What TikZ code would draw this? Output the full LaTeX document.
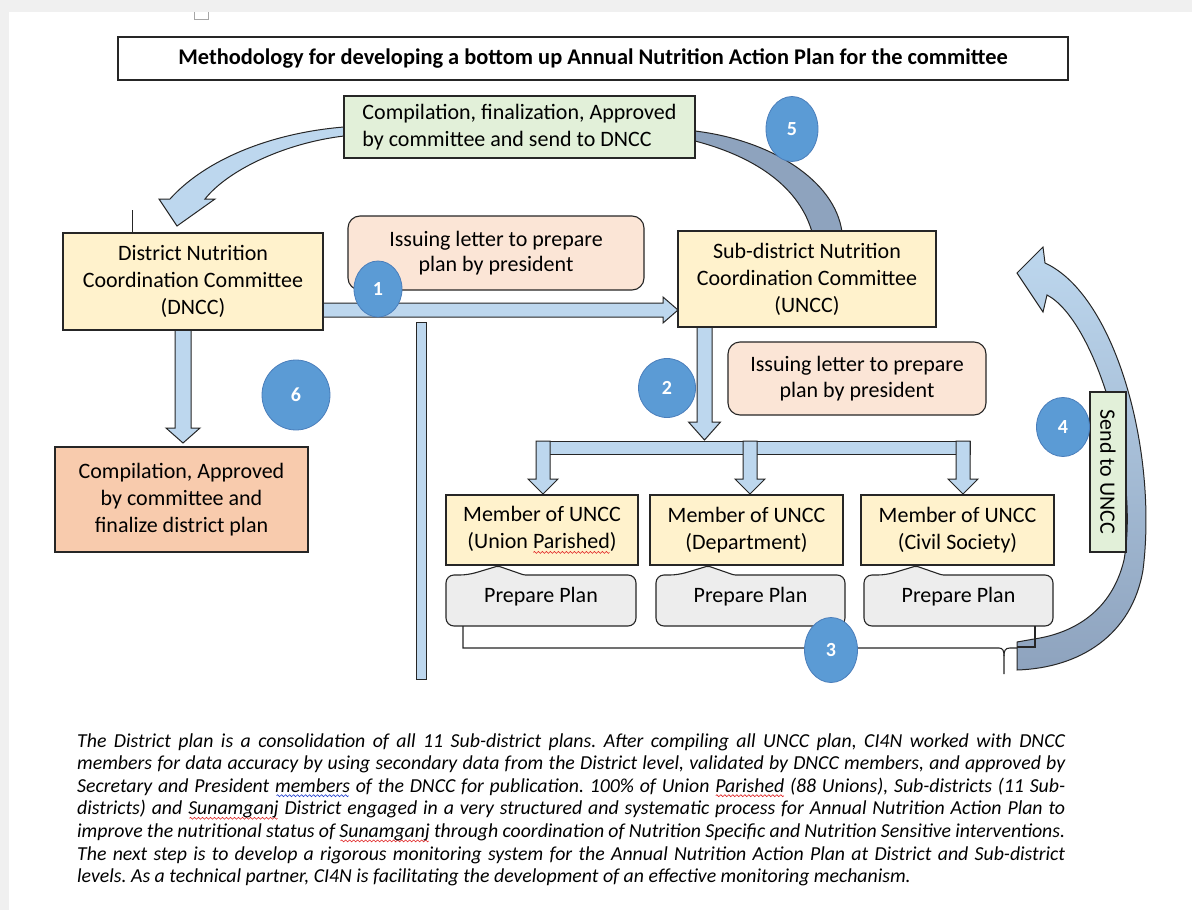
\documentclass[tikz,border=0pt]{standalone}
\usepackage{fontspec}
\setmainfont{Carlito}
\usetikzlibrary{shapes.geometric}

\definecolor{pagegray}{HTML}{F0F0F0}
\definecolor{ink}{HTML}{262626}
\definecolor{boxyellow}{HTML}{FFF2CC}
\definecolor{boxgreen}{HTML}{E2F0D9}
\definecolor{boxpink}{HTML}{FBE5D6}
\definecolor{boxorange}{HTML}{F8CBAD}
\definecolor{boxgray}{HTML}{EDEDED}
\definecolor{arrowblue}{HTML}{BDD7EE}
\definecolor{arrowdark}{HTML}{8EA3BE}
\definecolor{badgefill}{HTML}{5B9BD5}
\definecolor{badgeedge}{HTML}{4A7EBB}
\definecolor{spellred}{HTML}{E02020}
\definecolor{spellblue}{HTML}{2040D0}

\newcommand\boxfont{\fontsize{22}{27}\selectfont}
\newcommand\letterfont{\fontsize{22}{25.5}\selectfont}
\newcommand\titlefont{\fontsize{22.4}{26}\selectfont\bfseries}
\newcommand\parafont{\fontsize{19.8}{22.6}\selectfont\itshape\frenchspacing}

% one period of a spell-check wave, repeated under a word
\newsavebox\waveredbox
\newsavebox\wavebluebox
\newcommand\wavepiece[1]{%
  \pgfpicture
    \pgfsetlinewidth{0.6pt}\pgfsetstrokecolor{#1}%
    \pgfpathmoveto{\pgfpoint{0pt}{0pt}}%
    \pgfpathcurveto{\pgfpoint{1pt}{1.3pt}}{\pgfpoint{1pt}{1.3pt}}{\pgfpoint{2pt}{0pt}}%
    \pgfpathcurveto{\pgfpoint{3pt}{-1.3pt}}{\pgfpoint{3pt}{-1.3pt}}{\pgfpoint{4pt}{0pt}}%
    \pgfusepath{stroke}%
    \pgfresetboundingbox
    \pgfpathrectangle{\pgfpoint{0pt}{-1pt}}{\pgfpoint{4pt}{2pt}}%
    \pgfusepath{use as bounding box}%
  \endpgfpicture}
\AtBeginDocument{%
  \sbox\waveredbox{\wavepiece{spellred}}%
  \sbox\wavebluebox{\wavepiece{spellblue}}}
\newcommand\wavedword[2]{\leavevmode\setbox0\hbox{#2}%
  \rlap{\raisebox{-4.5pt}{\hbox to \wd0{\cleaders\copy#1\hfill}}}\box0\relax}
\newcommand\redwave[1]{\wavedword{\waveredbox}{#1}}
\newcommand\bluewave[1]{\wavedword{\wavebluebox}{#1}}

% straight block arrow pointing down: cx, ytop, yneck, ytip, half shaft, half head
\newcommand\downblock[6]{%
  \draw[blockarrow] (#1-#5,#2) -- (#1+#5,#2) -- (#1+#5,#3) -- (#1+#6,#3)
    -- (#1,#4) -- (#1-#6,#3) -- (#1-#5,#3) -- cycle;}

% "Prepare Plan" callout: name, left, right
\newcommand\plancallout[3]{%
  \draw[callout] (#2+22,575) [rounded corners=1.5pt] -- (#2+52,566) -- (#2+78,575)
    [rounded corners=8pt] -- (#3,575) -- (#3,626) -- (#2,626) -- (#2,575) -- cycle;
  \node[inner sep=0pt, font=\boxfont] (#1) at ({(#2+#3)/2},597) {Prepare Plan};}

\begin{document}
\begin{tikzpicture}[x=1pt,y=-1pt,
  box/.style={draw=ink, line width=1.1pt, inner sep=0pt, align=center, font=\boxfont},
  letterbox/.style={box, fill=boxpink, rounded corners=12pt, font=\letterfont},
  badge/.style={ellipse, fill=badgefill, draw=badgeedge, line width=0.8pt, inner sep=0pt,
    text=white, font=\fontsize{20}{20}\selectfont\bfseries},
  blockarrow/.style={fill=arrowblue, draw=ink, line width=1pt, line join=miter},
  callout/.style={fill=boxgray, draw=ink, line width=1.1pt},
  thinline/.style={draw=ink, line width=1.1pt},
  paraline/.style={anchor=base west, inner sep=0pt, font=\parafont}]

\useasboundingbox (0,0) rectangle (1192,910);
\fill[pagegray] (0,0) rectangle (1192,910);
\fill[white] (9,12) rectangle (1192,910);

% small marks
\draw[gray!70, line width=0.8pt] (194,12) -- (194,19) -- (208,19) -- (208,12);
\draw[ink, line width=1pt] (132,210) -- (132,233);

% title
\node[box, fill=white, minimum width=950, minimum height=43, font=\titlefont] (title) at (593,58.5)
  {Methodology for developing a bottom up Annual Nutrition Action Plan for the committee};

% curved arrow from the compiled plan down to the DNCC
\draw[blockarrow] (344,127) .. controls (270,133) and (205,160) .. (170,199) -- (159,199)
  -- (177,226) -- (215,199) -- (205,199) .. controls (228,170) and (285,143) .. (344,136) -- cycle;

% curved band from the compiled plan to the UNCC
\draw[fill=arrowdark, draw=ink, line width=1pt] (695,131) .. controls (770,140) and (835,180) .. (842,232)
  -- (812,232) .. controls (800,190) and (760,158) .. (695,141) -- cycle;

% vertical separator
\draw[blockarrow] (416,322) rectangle (426,679);

% arrow 1: DNCC to UNCC
\draw[blockarrow] (323,303) -- (663,303) -- (663,297) -- (678,310) -- (663,323) -- (663,317) -- (323,317) -- cycle;

% arrow 6: DNCC to district plan
\downblock{183}{330}{428}{443}{8}{17}

% arrow 2: UNCC to members
\downblock{704.5}{327}{422}{440}{7.5}{16}
\draw[blockarrow] (536,441) rectangle (970,454);
\downblock{543}{441}{479}{494}{7}{15}
\downblock{750}{441}{479}{494}{7}{15}
\downblock{963}{441}{479}{494}{7}{15}

% arrow 4: members back to UNCC
\draw[draw=ink, line width=1pt, top color=arrowblue, middle color=arrowblue, bottom color=arrowdark]
  (1017,273) -- (1043,247) -- (1045,263) .. controls (1115,295) and (1158,450) .. (1143,570)
  .. controls (1132,635) and (1080,668) .. (1017,670) -- (1017,642) -- (1034,639)
  .. controls (1075,633) and (1112,610) .. (1124,560)
  .. controls (1140,470) and (1095,320) .. (1047,295) -- (1043,312) -- cycle;

% boxes
\node[box, fill=boxgreen, minimum width=351, minimum height=62, align=left] (compile) at (519.5,127)
  {Compilation, finalization, Approved\\by committee and send to DNCC};
\node[box, fill=boxyellow, minimum width=260, minimum height=97] (dncc) at (193,281.5)
  {District Nutrition\\Coordination Committee\\(DNCC)};
\node[letterbox, minimum width=296, minimum height=74] (letterA) at (496,253)
  {Issuing letter to prepare\\plan by president};
\node[box, fill=boxyellow, minimum width=258, minimum height=96] (uncc) at (807,279)
  {Sub-district Nutrition\\Coordination Committee\\(UNCC)};
\node[letterbox, minimum width=258, minimum height=73] (letterB) at (857,378.5)
  {Issuing letter to prepare\\plan by president};
\node[box, fill=boxorange, minimum width=253, minimum height=105] (district) at (181.5,499.5)
  {Compilation, Approved\\by committee and\\finalize district plan};

\node[box, fill=boxyellow, minimum width=192, minimum height=70] (member1) at (542,530)
  {Member of UNCC\\(Union \redwave{Parished})};
\node[box, fill=boxyellow, minimum width=193, minimum height=70] (member2) at (746.5,530)
  {Member of UNCC\\(Department)};
\node[box, fill=boxyellow, minimum width=193, minimum height=70] (member3) at (957.5,530)
  {Member of UNCC\\(Civil Society)};

\plancallout{plan1}{446}{636}
\plancallout{plan2}{656}{845}
\plancallout{plan3}{864}{1053}

% bracket gathering the plans
\draw[thinline] (463,626) -- (463,648) -- (999,648) .. controls (1003,648) and (1004,651) .. (1004,656) -- (1004,674);
\draw[thinline] (1004,656) .. controls (1004,651) and (1005,648) .. (1010,648) -- (1017,648);
\draw[thinline] (1035,626) -- (1035,647) -- (1017,647);

\node[box, fill=boxgreen, rotate=-90, minimum width=160, minimum height=36] (send) at (1108,472)
  {Send to UNCC};

% step badges
\node[badge, minimum width=48, minimum height=56] (s1) at (378,289) {1};
\node[badge, minimum width=57, minimum height=59] (s2) at (667,388) {2};
\node[badge, minimum width=53, minimum height=65] (s3) at (831,650) {3};
\node[badge, minimum width=53, minimum height=59] (s4) at (1063,427) {4};
\node[badge, minimum width=52, minimum height=65] (s5) at (792,129) {5};
\node[badge, minimum width=68, minimum height=70] (s6) at (296,395) {6};

% explanatory paragraph
\node[paraline] (p1) at (77,747) {\makebox[988pt][s]{The District plan is a consolidation of all 11 Sub-district plans. After compiling all UNCC plan, CI4N worked with DNCC}};
\node[paraline] (p2) at (77,769.6) {\makebox[988pt][s]{members for data accuracy by using secondary data from the District level, validated by DNCC members, and approved by}};
\node[paraline] (p3) at (77,792.2) {\makebox[988pt][s]{Secretary and President \bluewave{members} of the DNCC for publication. 100\% of Union \redwave{Parished} (88 Unions), Sub-districts (11 Sub-}};
\node[paraline] (p4) at (77,814.8) {\makebox[988pt][s]{districts) and \redwave{Sunamganj} District engaged in a very structured and systematic process for Annual Nutrition Action Plan to}};
\node[paraline] (p5) at (77,837.4) {\makebox[988pt][s]{improve the nutritional status of \redwave{Sunamganj} through coordination of Nutrition Specific and Nutrition Sensitive interventions.}};
\node[paraline] (p6) at (77,860) {\makebox[988pt][s]{The next step is to develop a rigorous monitoring system for the Annual Nutrition Action Plan at District and Sub-district}};
\node[paraline] (p7) at (77,882.6) {levels. As a technical partner, CI4N is facilitating the development of an effective monitoring mechanism.};

\end{tikzpicture}
\end{document}
